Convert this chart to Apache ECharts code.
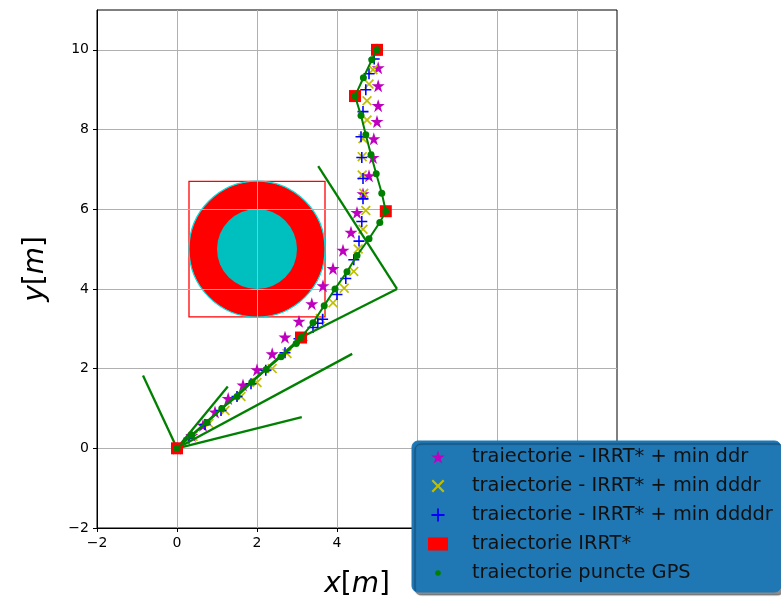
<!DOCTYPE html>
<html>
<head>
<meta charset="utf-8">
<script src="https://cdn.jsdelivr.net/npm/echarts@6/dist/echarts.min.js"></script>
<style>
  html, body { margin: 0; padding: 0; background: #fff; }
  #chart { width: 781px; height: 601px; }
</style>
</head>
<body>
<div id="chart"></div>
<script>
// Tick labels shared by both axes
const xTicks = [-2, 0, 2, 4, 6, 8, 10];
const yTicks = [-2, 0, 2, 4, 6, 8, 10];

// Obstacle: disc with inner core and bounding box
const obsX = [2];
const obsY = [5];
const obsOuter = [1.7];
const obsInner = [1.0];
const obsBox = [1.7];

// IRRT* path nodes
const irrtX = [0, 3.1, 5.22, 4.45, 5.0];
const irrtY = [0, 2.78, 5.95, 8.84, 10.0];

// Tree edges (start -> end)
const edgeX0 = [0, 0, 0, 0, 0, 3.1, 5.5];
const edgeY0 = [0, 0, 0, 0, 0, 2.78, 4.0];
const edgeX1 = [-0.85, 1.27, 3.12, 4.38, 3.1, 5.5, 3.53];
const edgeY1 = [1.83, 1.55, 0.78, 2.37, 2.78, 4.0, 7.08];

// Smoothed trajectories
const ddrX = [0, 0.37, 0.65, 0.95, 1.28, 1.65, 2.0, 2.38, 2.7, 3.05, 3.37, 3.65, 3.9, 4.15, 4.35, 4.5, 4.65, 4.8, 4.9, 4.92, 5.0, 5.03, 5.03, 5.03, 5.0];
const ddrY = [0, 0.32, 0.58, 0.91, 1.25, 1.59, 1.97, 2.37, 2.79, 3.19, 3.63, 4.08, 4.51, 4.97, 5.42, 5.92, 6.39, 6.84, 7.3, 7.77, 8.2, 8.6, 9.1, 9.55, 10.0];

const dddrX = [0, 0.4, 0.8, 1.2, 1.6, 2.0, 2.38, 2.75, 3.15, 3.58, 3.9, 4.18, 4.42, 4.53, 4.65, 4.72, 4.67, 4.63, 4.63, 4.65, 4.75, 4.75, 4.8, 4.9, 5.0];
const dddrY = [0, 0.3, 0.62, 0.95, 1.3, 1.65, 2.0, 2.38, 2.8, 3.26, 3.65, 4.02, 4.44, 5.0, 5.5, 5.97, 6.4, 6.86, 7.32, 7.77, 8.24, 8.72, 9.14, 9.5, 10.0];

const ddddrX = [0, 0.3, 0.7, 1.1, 1.5, 1.85, 2.22, 2.7, 3.05, 3.4, 3.52, 3.64, 4.0, 4.22, 4.42, 4.55, 4.62, 4.65, 4.65, 4.62, 4.6, 4.65, 4.72, 4.8, 4.93, 5.0];
const ddddrY = [0, 0.25, 0.6, 0.95, 1.3, 1.62, 1.96, 2.4, 2.75, 3.03, 3.14, 3.24, 3.86, 4.26, 4.73, 5.2, 5.69, 6.26, 6.77, 7.3, 7.82, 8.45, 9.0, 9.4, 9.77, 10.0];

// GPS waypoints
const gpsX = [0, 0.37, 0.75, 1.12, 1.5, 1.87, 2.23, 2.6, 2.98, 3.1, 3.4, 3.68, 3.95, 4.25, 4.5, 4.8, 5.07, 5.22, 5.12, 4.98, 4.85, 4.72, 4.6, 4.45, 4.66, 4.87, 5.0];
const gpsY = [0, 0.33, 0.65, 1.0, 1.3, 1.66, 1.98, 2.3, 2.63, 2.78, 3.15, 3.58, 4.0, 4.43, 4.84, 5.26, 5.67, 5.95, 6.4, 6.89, 7.37, 7.87, 8.35, 8.84, 9.3, 9.75, 10.0];

const names = [
  'traiectorie - IRRT* + min ddr',
  'traiectorie - IRRT* + min dddr',
  'traiectorie - IRRT* + min ddddr',
  'traiectorie IRRT*',
  'traiectorie puncte GPS'
];

const zip = (xs, ys) => xs.map((x, i) => [x, ys[i]]);

// Marker shapes
function starPath(R, r) {
  let d = '';
  for (let k = 0; k < 10; k++) {
    const rad = k % 2 ? r : R;
    const a = -Math.PI / 2 + k * Math.PI / 5;
    d += (k ? 'L' : 'M') + (R + rad * Math.cos(a)).toFixed(3) + ',' + (R + rad * Math.sin(a)).toFixed(3);
  }
  return 'path://' + d + 'Z';
}
const PLUS_PTS = [[4.3, 0], [5.7, 0], [5.7, 4.3], [10, 4.3], [10, 5.7], [5.7, 5.7], [5.7, 10], [4.3, 10], [4.3, 5.7], [0, 5.7], [0, 4.3], [4.3, 4.3]];
function polyPath(pts, angle) {
  const c = Math.cos(angle), s = Math.sin(angle);
  return 'path://' + pts.map((p, k) => {
    const dx = p[0] - 5, dy = p[1] - 5;
    return (k ? 'L' : 'M') + (5 + dx * c - dy * s).toFixed(3) + ',' + (5 + dx * s + dy * c).toFixed(3);
  }).join('') + 'Z';
}
const STAR = starPath(10, 3.82);
const PLUS = polyPath(PLUS_PTS, 0);
const CROSS = polyPath(PLUS_PTS, Math.PI / 4);
const DOT_ICON = 'path://M0,0M20,20M14.3,10A4.3,4.3,0,1,1,5.7,10A4.3,4.3,0,1,1,14.3,10Z';

const FONT = 'DejaVu Sans';

const chart = echarts.init(document.getElementById('chart'), null, { renderer: 'canvas' });

function axis(ticks, extra) {
  return Object.assign({
    type: 'value',
    zlevel: 1,
    min: -2,
    max: 11,
    interval: 2,
    axisLine: { show: true, onZero: false, lineStyle: { color: '#000', width: 1 } },
    axisTick: { show: true, inside: false, length: 4, lineStyle: { color: '#000', width: 1 }, customValues: ticks },
    axisLabel: {
      customValues: ticks,
      margin: 8,
      fontFamily: FONT, fontSize: 14, color: '#000',
      formatter: v => String(v).replace('-', '\u2212')
    },
    splitLine: { show: true, lineStyle: { color: '#b0b0b0', width: 1 } },
    nameLocation: 'middle',
    nameTextStyle: {
      fontFamily: FONT, fontSize: 28, color: '#000',
      rich: { i: { fontFamily: FONT, fontSize: 28, fontStyle: 'italic', color: '#000' } }
    }
  }, extra);
}

const option = {
  animation: false,
  grid: {
    left: 97, top: 10, width: 520, height: 518,
    outerBoundsMode: 'none', containLabel: false,
    show: true, zlevel: 1, borderColor: '#000', borderWidth: 1, backgroundColor: 'transparent'
  },
  xAxis: axis(xTicks, { name: '{i|x}[{i|m}]', nameGap: 43 }),
  yAxis: axis(yTicks, { name: '{i|y}[{i|m}]', nameGap: 47, nameRotate: 90 }),
  legend: {
    zlevel: 3,
    orient: 'vertical',
    left: 412,
    top: 441,
    itemWidth: 20,
    itemHeight: 13,
    itemGap: 7,
    padding: [5, 8, 8, 16],
    backgroundColor: '#1f77b4',
    borderColor: '#1f77b4',
    borderWidth: 1,
    borderRadius: 6,
    shadowColor: 'rgba(0,0,0,0.45)',
    shadowOffsetX: 3,
    shadowOffsetY: 3,
    shadowBlur: 1,
    selectedMode: false,
    textStyle: { fontFamily: FONT, fontSize: 19.4, color: '#111', lineHeight: 22, padding: [0, 0, 0, 19] },
    data: [
      { name: names[0], icon: STAR },
      { name: names[1], icon: CROSS },
      { name: names[2], icon: PLUS },
      { name: names[3], icon: 'rect' },
      { name: names[4], icon: DOT_ICON }
    ]
  },
  series: [
    {
      // obstacle, on its own layer beneath the grid lines
      type: 'custom',
      zlevel: 0,
      silent: true,
      data: obsX.map((x, i) => [x, obsY[i], obsOuter[i], obsInner[i], obsBox[i]]),
      renderItem: (params, api) => {
        const c = api.coord([api.value(0), api.value(1)]);
        const rOut = api.size([api.value(2), api.value(2)])[0];
        const rIn = api.size([api.value(3), api.value(3)])[0];
        const h = api.value(4);
        const p0 = api.coord([api.value(0) - h, api.value(1) + h]);
        const p1 = api.coord([api.value(0) + h, api.value(1) - h]);
        return {
          type: 'group',
          children: [
            { type: 'rect', shape: { x: p0[0], y: p0[1], width: p1[0] - p0[0], height: p1[1] - p0[1] },
              style: { fill: 'none', stroke: '#ff0000', lineWidth: 1.3 } },
            { type: 'circle', shape: { cx: c[0], cy: c[1], r: rOut },
              style: { fill: '#ff0000', stroke: '#00dede', lineWidth: 1.2 } },
            { type: 'circle', shape: { cx: c[0], cy: c[1], r: rIn },
              style: { fill: '#00bfbf', stroke: 'none' } }
          ]
        };
      }
    },
    {
      name: names[0], type: 'scatter', zlevel: 2, z: 2,
      symbol: STAR, symbolSize: 13,
      itemStyle: { color: '#bf00bf', opacity: 1 },
      data: zip(ddrX, ddrY)
    },
    {
      name: names[1], type: 'scatter', zlevel: 2, z: 3,
      symbol: CROSS, symbolSize: 10,
      itemStyle: { color: '#bfbf00', opacity: 1 },
      data: zip(dddrX, dddrY)
    },
    {
      name: names[2], type: 'scatter', zlevel: 2, z: 4,
      symbol: PLUS, symbolSize: 11,
      itemStyle: { color: '#0000ff', opacity: 1 },
      data: zip(ddddrX, ddddrY)
    },
    {
      // tree edges
      type: 'lines', coordinateSystem: 'cartesian2d', zlevel: 2, z: 5, silent: true,
      lineStyle: { color: '#008000', width: 2.3, opacity: 1 },
      data: edgeX0.map((x, i) => ({ coords: [[x, edgeY0[i]], [edgeX1[i], edgeY1[i]]] }))
    },
    {
      name: names[3], type: 'scatter', zlevel: 2, z: 6,
      symbol: 'rect', symbolSize: 12,
      itemStyle: { color: '#ff0000', opacity: 1 },
      data: zip(irrtX, irrtY)
    },
    {
      // GPS path connecting line
      type: 'line', zlevel: 2, z: 7, silent: true,
      showSymbol: false, symbol: 'none',
      lineStyle: { color: '#008000', width: 2 },
      data: zip(gpsX, gpsY)
    },
    {
      name: names[4], type: 'scatter', zlevel: 2, z: 8,
      symbol: 'circle', symbolSize: 7,
      itemStyle: { color: '#008000', opacity: 1 },
      data: zip(gpsX, gpsY)
    }
  ]
};

chart.setOption(option);
</script>
</body>
</html>
